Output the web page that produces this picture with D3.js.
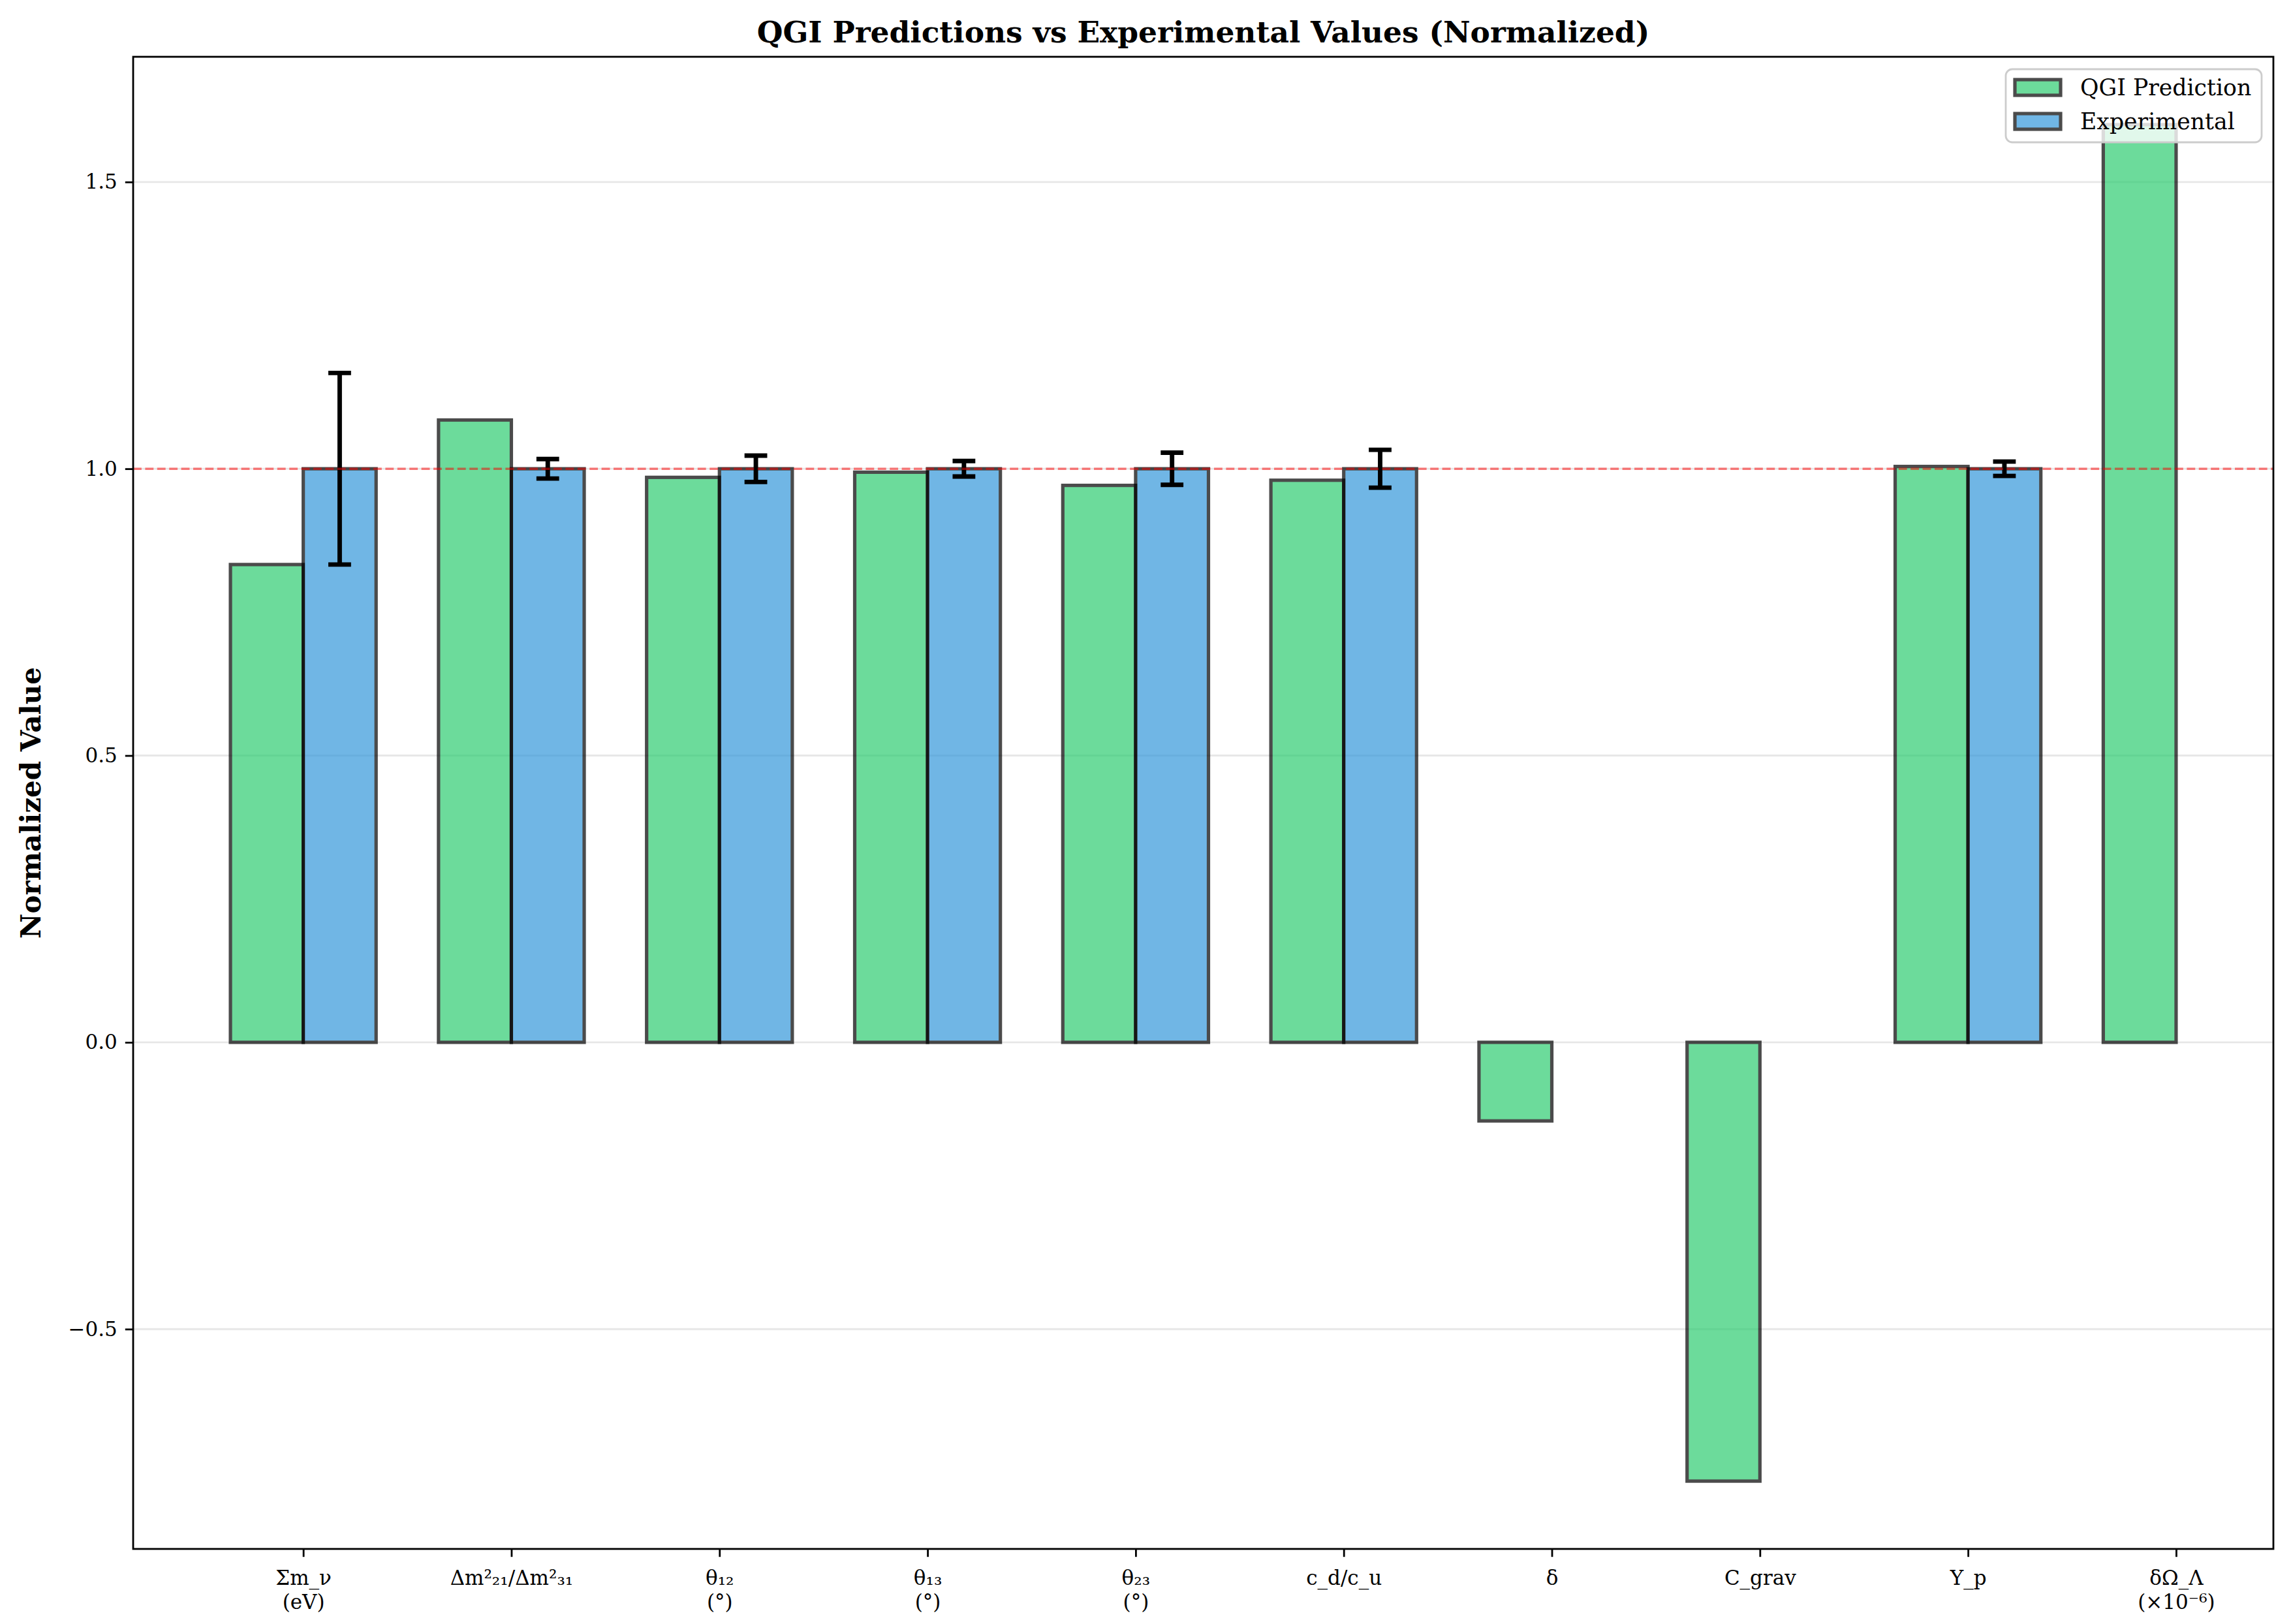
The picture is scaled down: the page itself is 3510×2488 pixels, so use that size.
<!DOCTYPE html>
<html>
<head>
<meta charset="utf-8">
<script src="https://cdn.jsdelivr.net/npm/d3@7"></script>
<style>
  html, body { margin: 0; padding: 0; background: #ffffff; }
  svg { display: block; }
  text { font-family: "DejaVu Serif", "Liberation Serif", serif; }
</style>
</head>
<body>
<svg id="chart" width="3510" height="2488"></svg>
<script>
// ---- data ----
const categories = ["Σm_ν\n(eV)", "Δm²₂₁/Δm²₃₁", "θ₁₂\n(°)", "θ₁₃\n(°)", "θ₂₃\n(°)", "c_d/c_u", "δ", "C_grav", "Y_p", "δΩ_Λ\n(×10⁻⁶)"];
const qgiValues = [0.833, 1.085, 0.985, 0.994, 0.971, 0.980, -0.137, -0.765, 1.004, 1.600];
const expValues = [1.0, 1.0, 1.0, 1.0, 1.0, 1.0, null, null, 1.0, null];
const expErrors = [0.167, 0.017, 0.023, 0.0135, 0.028, 0.033, null, null, 0.0125, null];
const yTickValues = [-0.5, 0.0, 0.5, 1.0, 1.5];
const seriesNames = ["QGI Prediction", "Experimental"];
const seriesColors = ["#2ecc71", "#3498db"];
const referenceLine = 1.0;
const chartTitle = "QGI Predictions vs Experimental Values (Normalized)";
const yAxisLabel = "Normalized Value";

// ---- layout ----
const W = 3510, H = 2488;
const margin = { top: 87, right: 27, bottom: 115, left: 204 };
const barW = 0.35;

const svg = d3.select("#chart");

// x extent (matplotlib-like 5% margins on data extent)
let xMin = Infinity, xMax = -Infinity;
qgiValues.forEach((v, i) => { if (v != null) { xMin = Math.min(xMin, i - barW); xMax = Math.max(xMax, i); } });
expValues.forEach((v, i) => { if (v != null) { xMin = Math.min(xMin, i); xMax = Math.max(xMax, i + barW); } });
const xPad = (xMax - xMin) * 0.05;
const x = d3.scaleLinear().domain([xMin - xPad, xMax + xPad]).range([margin.left, W - margin.right]);

// y extent
let yMin = 0, yMax = 0;
qgiValues.forEach(v => { if (v != null) { yMin = Math.min(yMin, v); yMax = Math.max(yMax, v); } });
expValues.forEach((v, i) => { if (v != null) { const e = expErrors[i] || 0; yMin = Math.min(yMin, v - e); yMax = Math.max(yMax, v + e); } });
const yPad = (yMax - yMin) * 0.05;
const y = d3.scaleLinear().domain([yMin - yPad, yMax + yPad]).range([H - margin.bottom, margin.top]);

// grid (y only)
svg.append("g")
  .selectAll("line")
  .data(yTickValues)
  .join("line")
  .attr("x1", margin.left).attr("x2", W - margin.right)
  .attr("y1", d => y(d)).attr("y2", d => y(d))
  .attr("stroke", "#b0b0b0").attr("stroke-opacity", 0.3).attr("stroke-width", 2.8);

// bars
const bars = svg.append("g");
function drawSeries(values, offset, color) {
  bars.append("g").selectAll("rect")
    .data(values.map((v, i) => ({ v, i })).filter(d => d.v != null))
    .join("rect")
    .attr("x", d => x(d.i + offset))
    .attr("width", d => x(d.i + offset + barW) - x(d.i + offset))
    .attr("y", d => Math.min(y(d.v), y(0)))
    .attr("height", d => Math.abs(y(d.v) - y(0)))
    .attr("fill", color)
    .attr("stroke", "#000")
    .attr("stroke-width", 5.2)
    .attr("opacity", 0.7);
}
drawSeries(qgiValues, -barW, seriesColors[0]);
drawSeries(expValues, 0, seriesColors[1]);

// error bars
const errData = expValues.map((v, i) => ({ v, e: expErrors[i], i })).filter(d => d.v != null && d.e != null);
const eg = svg.append("g").attr("stroke", "#000").attr("stroke-width", 6.9);
const capHalf = 17.4;
errData.forEach(d => {
  const cx = x(d.i + barW / 2);
  eg.append("line").attr("x1", cx).attr("x2", cx).attr("y1", y(d.v - d.e)).attr("y2", y(d.v + d.e));
  eg.append("line").attr("x1", cx - capHalf).attr("x2", cx + capHalf).attr("y1", y(d.v - d.e)).attr("y2", y(d.v - d.e));
  eg.append("line").attr("x1", cx - capHalf).attr("x2", cx + capHalf).attr("y1", y(d.v + d.e)).attr("y2", y(d.v + d.e));
});

// reference line
svg.append("line")
  .attr("x1", margin.left).attr("x2", W - margin.right)
  .attr("y1", y(referenceLine)).attr("y2", y(referenceLine))
  .attr("stroke", "#ff0000").attr("stroke-opacity", 0.5)
  .attr("stroke-width", 3.5)
  .attr("stroke-dasharray", "12.85,5.55");

// axes
const yAxis = d3.axisLeft(y).tickValues(yTickValues).tickFormat(d3.format(".1f")).tickSize(12.2).tickPadding(12);
const gy = svg.append("g").attr("transform", `translate(${margin.left},0)`).call(yAxis);
gy.select(".domain").remove();
gy.selectAll(".tick line").attr("stroke", "#000").attr("stroke-width", 2.8);
gy.selectAll(".tick text").attr("font-size", 31).attr("fill", "#000").attr("font-family", "DejaVu Serif");

const xAxis = d3.axisBottom(x).tickValues(d3.range(categories.length)).tickFormat("").tickSize(12.2);
const gx = svg.append("g").attr("transform", `translate(0,${H - margin.bottom})`).call(xAxis);
gx.select(".domain").remove();
gx.selectAll(".tick line").attr("stroke", "#000").attr("stroke-width", 2.8);
gx.selectAll(".tick").each(function (d) {
  const lines = categories[d].split("\n");
  const t = d3.select(this).append("text")
    .attr("fill", "#000").attr("font-size", 31).attr("font-family", "DejaVu Serif")
    .attr("text-anchor", "middle");
  lines.forEach((ln, k) => {
    t.append("tspan").attr("x", 0).attr("y", 55 + k * 37).text(ln);
  });
});

// frame
svg.append("rect")
  .attr("x", margin.left).attr("y", margin.top)
  .attr("width", W - margin.left - margin.right).attr("height", H - margin.top - margin.bottom)
  .attr("fill", "none").attr("stroke", "#000").attr("stroke-width", 2.8);

// title
svg.append("text")
  .attr("x", (margin.left + W - margin.right) / 2).attr("y", 65)
  .attr("text-anchor", "middle").attr("font-size", 45.5).attr("font-weight", "bold")
  .attr("fill", "#000").text(chartTitle);

// y label
svg.append("text")
  .attr("transform", `translate(62,${(margin.top + H - margin.bottom) / 2}) rotate(-90)`)
  .attr("text-anchor", "middle").attr("font-size", 42).attr("font-weight", "bold")
  .attr("fill", "#000").text(yAxisLabel);

// legend
const lg = svg.append("g");
lg.append("rect")
  .attr("x", 3073).attr("y", 106).attr("width", 392).attr("height", 112)
  .attr("rx", 10).attr("fill", "#fff").attr("fill-opacity", 0.8)
  .attr("stroke", "#cccccc").attr("stroke-width", 2.8);
seriesNames.forEach((name, k) => {
  const cy = 134 + k * 52;
  lg.append("rect")
    .attr("x", 3087).attr("y", cy - 12).attr("width", 70).attr("height", 24)
    .attr("fill", seriesColors[k]).attr("stroke", "#000").attr("stroke-width", 5.2)
    .attr("opacity", 0.7);
  lg.append("text")
    .attr("x", 3187).attr("y", cy + 12)
    .attr("font-size", 34.7).attr("fill", "#000").text(name);
});
</script>
</body>
</html>
